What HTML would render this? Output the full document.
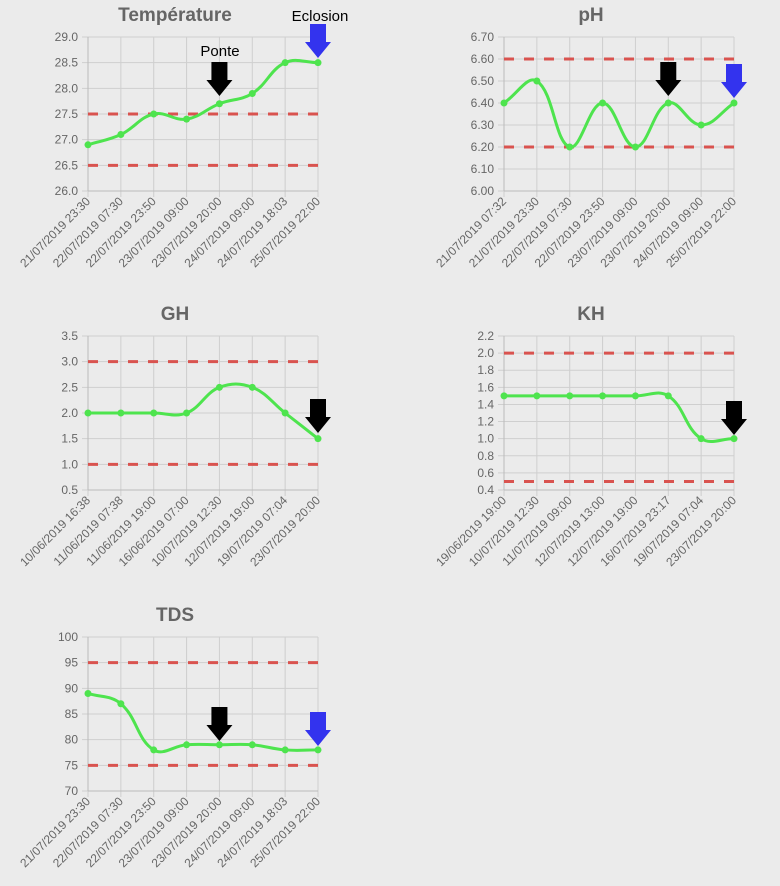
<!DOCTYPE html>
<html><head><meta charset="utf-8"><style>
html,body{margin:0;padding:0;background:#ebebeb;}
svg{display:block;font-family:"Liberation Sans",sans-serif;}
</style></head><body>
<svg id="s" width="780" height="886" xmlns="http://www.w3.org/2000/svg"></svg>
<script>
var s=document.getElementById('s');var out='';
var L1=["21/07/2019 23:30","22/07/2019 07:30","22/07/2019 23:50","23/07/2019 09:00","23/07/2019 20:00","24/07/2019 09:00","24/07/2019 18:03","25/07/2019 22:00"];
function arrow(x,y,c){
 return '<path d="M'+(x-8)+' '+y+'h16v18h5l-13 16l-13 -16h5z" fill="'+c+'"/>';}
function chart(o){
 var x0=o.x0,x1=o.x0+230,yT=o.yT,yB=o.yT+154,n=8,dx=(x1-x0)/7;
 var Y=function(v){return yB-(v-o.min)/(o.max-o.min)*(yB-yT);};
 out+='<text x="'+(x0+87)+'" y="'+(yT-16)+'" text-anchor="middle" font-size="19" font-weight="bold" fill="#666">'+o.title+'</text>';
 for(var i=0;i<o.ticks.length;i++){var v=o.ticks[i],y=Y(v);
  out+='<line x1="'+(x0-6)+'" x2="'+x1+'" y1="'+y+'" y2="'+y+'" stroke="#cfcfcf" stroke-width="1"/>';
  out+='<text x="'+(x0-10)+'" y="'+(y+4)+'" text-anchor="end" font-size="12" fill="#666">'+v.toFixed(o.dec)+'</text>';}
 for(var i=0;i<n;i++){var x=x0+i*dx;
  out+='<line x1="'+x+'" x2="'+x+'" y1="'+yT+'" y2="'+(yB+6)+'" stroke="#cfcfcf" stroke-width="1"/>';
  out+='<text transform="translate('+(x+3)+','+(yB+11)+') rotate(-45)" text-anchor="end" font-size="12" fill="#666">'+o.labels[i]+'</text>';}
 out+='<line x1="'+x0+'" x2="'+x0+'" y1="'+yT+'" y2="'+yB+'" stroke="#bbb"/><line x1="'+x0+'" x2="'+x1+'" y1="'+yB+'" y2="'+yB+'" stroke="#bbb"/>';
 o.lim.forEach(function(v){var y=Y(v);out+='<line x1="'+x0+'" x2="'+x1+'" y1="'+y+'" y2="'+y+'" stroke="#d9534f" stroke-width="3" stroke-dasharray="10 10"/>';});
 var P=o.data.map(function(v,i){return [x0+i*dx,Y(v)];});
 var d='M'+P[0][0]+' '+P[0][1];var t=0.4;
 function cp(i){var p=P[Math.max(i-1,0)],c=P[i],nx=P[Math.min(i+1,n-1)];
  var d01=Math.hypot(c[0]-p[0],c[1]-p[1]),d12=Math.hypot(nx[0]-c[0],nx[1]-c[1]);
  var fa=d01/(d01+d12)||0,fb=d12/(d01+d12)||0;fa*=t;fb*=t;
  return {p:[c[0]-fa*(nx[0]-p[0]),c[1]-fa*(nx[1]-p[1])],n:[c[0]+fb*(nx[0]-p[0]),c[1]+fb*(nx[1]-p[1])]};}
 var C=P.map(function(_,i){return cp(i);});
 for(var i=1;i<n;i++){d+=' C'+C[i-1].n.join(' ')+' '+C[i].p.join(' ')+' '+P[i].join(' ');}
 out+='<path d="'+d+'" fill="none" stroke="#4ee44e" stroke-width="3"/>';
 P.forEach(function(p){out+='<circle cx="'+p[0]+'" cy="'+p[1]+'" r="3.5" fill="#4ee44e"/>';});
 (o.arrows||[]).forEach(function(a){out+=arrow(x0+a[0]*dx,a[1],a[2]);});
}
function rng(a,b,st){var r=[];for(var v=a;v<=b+1e-9;v+=st)r.push(+v.toFixed(4));return r;}
chart({title:"Température",x0:88,yT:37,min:26,max:29,ticks:rng(26,29,0.5),dec:1,labels:L1,data:[26.9,27.1,27.5,27.4,27.7,27.9,28.5,28.5],lim:[27.5,26.5],arrows:[[4,62,"#000"],[7,24,"#3333ee"]]});
out+='<text x="220" y="56" text-anchor="middle" font-size="15" fill="#000">Ponte</text>';
out+='<text x="320" y="21" text-anchor="middle" font-size="15" fill="#000">Eclosion</text>';
chart({title:"pH",x0:504,yT:37,min:6,max:6.7,ticks:rng(6,6.7,0.1),dec:2,labels:["21/07/2019 07:32","21/07/2019 23:30","22/07/2019 07:30","22/07/2019 23:50","23/07/2019 09:00","23/07/2019 20:00","24/07/2019 09:00","25/07/2019 22:00"],data:[6.4,6.5,6.2,6.4,6.2,6.4,6.3,6.4],lim:[6.6,6.2],arrows:[[5,62,"#000"],[7,64,"#3333ee"]]});
chart({title:"GH",x0:88,yT:336,min:0.5,max:3.5,ticks:rng(0.5,3.5,0.5),dec:1,labels:["10/06/2019 16:38","11/06/2019 07:38","11/06/2019 19:00","16/06/2019 07:00","10/07/2019 12:30","12/07/2019 19:00","19/07/2019 07:04","23/07/2019 20:00"],data:[2,2,2,2,2.5,2.5,2,1.5],lim:[3,1],arrows:[[7,399,"#000"]]});
chart({title:"KH",x0:504,yT:336,min:0.4,max:2.2,ticks:rng(0.4,2.2,0.2),dec:1,labels:["19/06/2019 19:00","10/07/2019 12:30","11/07/2019 09:00","12/07/2019 13:00","12/07/2019 19:00","16/07/2019 23:17","19/07/2019 07:04","23/07/2019 20:00"],data:[1.5,1.5,1.5,1.5,1.5,1.5,1.0,1.0],lim:[2,0.5],arrows:[[7,401,"#000"]]});
chart({title:"TDS",x0:88,yT:637,min:70,max:100,ticks:rng(70,100,5),dec:0,labels:L1,data:[89,87,78,79,79,79,78,78],lim:[95,75],arrows:[[4,707,"#000"],[7,712,"#3333ee"]]});
s.innerHTML=out;
</script>
</body></html>
